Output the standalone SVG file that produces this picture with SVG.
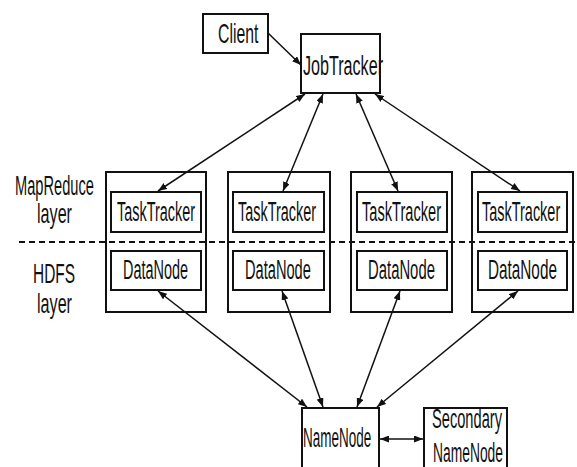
<svg xmlns="http://www.w3.org/2000/svg" width="577" height="467" viewBox="0 0 577 467">
<defs>
<marker id="ah" markerUnits="userSpaceOnUse" markerWidth="9" markerHeight="7" refX="9" refY="3.5" orient="auto-start-reverse"><path d="M0,0 L9,3.5 L0,7 z" fill="#111"/></marker>
</defs>
<style>
.box{fill:#fff;stroke:#111;stroke-width:2}
.outer{fill:none;stroke:#111;stroke-width:2}
.t{font-family:"Liberation Sans",Arial,sans-serif;fill:#111;font-size:28px}
.c{stroke:#111;stroke-width:1.5;fill:none}
</style>
<rect width="577" height="467" fill="#fff"/>
<g id="labels">
<text class="t" transform="matrix(0.523,0,0,1,15,195)">MapReduce</text>
<text class="t" transform="matrix(0.577,0,0,1,37,223)">layer</text>
<text class="t" transform="matrix(0.551,0,0,1,33,283)">HDFS</text>
<text class="t" transform="matrix(0.577,0,0,1,37,313)">layer</text>
</g>
<g id="outer-boxes">
<rect class="outer" x="106" y="172" width="100" height="140"/>
<rect class="outer" x="228" y="172" width="102" height="140"/>
<rect class="outer" x="351" y="172" width="101" height="140"/>
<rect class="outer" x="472" y="172" width="101" height="140"/>
</g>
<line x1="19" y1="242" x2="577" y2="242" stroke="#111" stroke-width="2" stroke-dasharray="6,4"/>
<g id="client">
<rect class="box" x="203" y="14" width="65" height="39"/>
<text class="t" font-size="25" transform="matrix(0.563,0,0,1,218,43)">Client</text>
</g>
<g id="jobtracker">
<rect class="box" x="301" y="34" width="79" height="59"/>
<text class="t" font-size="25" transform="matrix(0.576,0,0,1,303,75)">JobTracker</text>
</g>
<g id="tasktracker1">
<rect class="box" x="111" y="192" width="90" height="40"/>
<text class="t" transform="matrix(0.515,0,0,1,117,221)">TaskTracker</text>
</g>
<g id="tasktracker2">
<rect class="box" x="233" y="192" width="91" height="40"/>
<text class="t" transform="matrix(0.515,0,0,1,238,221)">TaskTracker</text>
</g>
<g id="tasktracker3">
<rect class="box" x="357" y="192" width="90" height="40"/>
<text class="t" transform="matrix(0.522,0,0,1,362,221)">TaskTracker</text>
</g>
<g id="tasktracker4">
<rect class="box" x="478" y="192" width="89" height="40"/>
<text class="t" transform="matrix(0.517,0,0,1,482,221)">TaskTracker</text>
</g>
<g id="datanode1">
<rect class="box" x="111" y="251" width="90" height="39"/>
<text class="t" transform="matrix(0.516,0,0,1,123,279)">DataNode</text>
</g>
<g id="datanode2">
<rect class="box" x="233" y="251" width="91" height="39"/>
<text class="t" transform="matrix(0.523,0,0,1,245,279)">DataNode</text>
</g>
<g id="datanode3">
<rect class="box" x="357" y="251" width="90" height="39"/>
<text class="t" transform="matrix(0.531,0,0,1,368,279)">DataNode</text>
</g>
<g id="datanode4">
<rect class="box" x="478" y="251" width="89" height="39"/>
<text class="t" transform="matrix(0.547,0,0,1,488,279)">DataNode</text>
</g>
<g id="namenode">
<rect class="box" x="302" y="408" width="77" height="70"/>
<text class="t" font-size="30" transform="matrix(0.481,0,0,1,303,447)">NameNode</text>
</g>
<g id="secondary-namenode">
<rect class="box" x="424" y="408" width="83" height="70"/>
<text class="t" transform="matrix(0.523,0,0,1,432,428)">Secondary</text>
<text class="t" transform="matrix(0.494,0,0,1,433,462)">NameNode</text>
</g>
<g id="connectors">
<line class="c" x1="268" y1="33" x2="301" y2="65" marker-end="url(#ah)"/>
<line class="c" x1="305" y1="94" x2="158" y2="191" marker-start="url(#ah)" marker-end="url(#ah)"/>
<line class="c" x1="323" y1="94" x2="283" y2="191" marker-start="url(#ah)" marker-end="url(#ah)"/>
<line class="c" x1="356" y1="94" x2="398" y2="191" marker-start="url(#ah)" marker-end="url(#ah)"/>
<line class="c" x1="375" y1="94" x2="520" y2="191" marker-start="url(#ah)" marker-end="url(#ah)"/>
<line class="c" x1="158" y1="291" x2="307" y2="407" marker-start="url(#ah)" marker-end="url(#ah)"/>
<line class="c" x1="282" y1="291" x2="323" y2="407" marker-start="url(#ah)" marker-end="url(#ah)"/>
<line class="c" x1="400" y1="291" x2="357" y2="407" marker-start="url(#ah)" marker-end="url(#ah)"/>
<line class="c" x1="518" y1="291" x2="377" y2="407" marker-start="url(#ah)" marker-end="url(#ah)"/>
<line class="c" x1="380" y1="439" x2="423" y2="439" stroke-width="2" marker-start="url(#ah)" marker-end="url(#ah)"/>
</g>
</svg>
